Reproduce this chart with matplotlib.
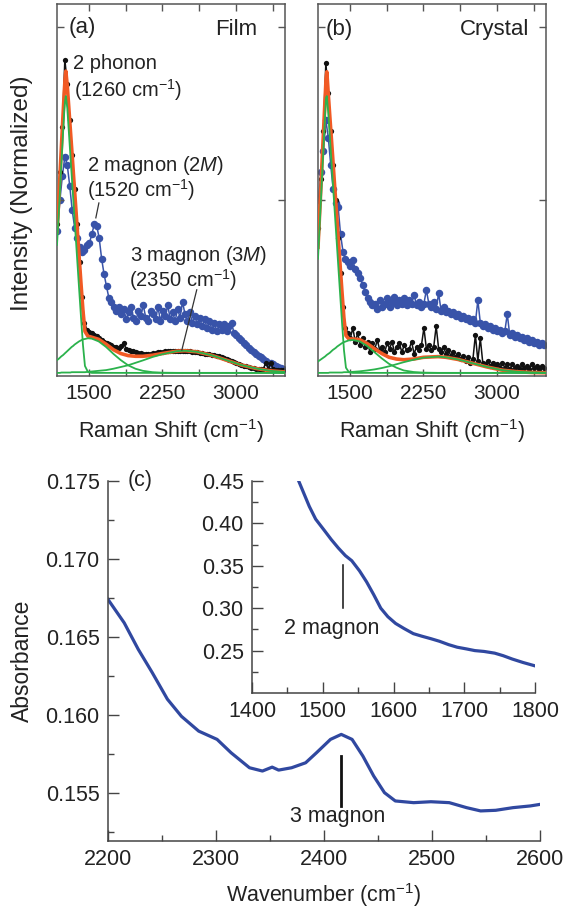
import numpy as np
import matplotlib
matplotlib.use("Agg")
import matplotlib.pyplot as plt
from matplotlib.ticker import FormatStrFormatter

plt.rcParams['font.family'] = ['Liberation Sans', 'DejaVu Sans']
plt.rcParams['mathtext.fontset'] = 'custom'
plt.rcParams['mathtext.rm'] = 'Liberation Sans'
plt.rcParams['mathtext.it'] = 'Liberation Sans:italic'
plt.rcParams['mathtext.bf'] = 'Liberation Sans:bold'

# ---------------- Raman data (normalized intensity), shift grid start/step ----------------
raman_start = 1180
raman_step = 25

film_blue = [0.41, 0.50, 0.57, 0.625, 0.60, 0.54, 0.47, 0.42, 0.39, 0.365, 0.35, 0.355, 0.37,
             0.375, 0.40, 0.43, 0.425, 0.39, 0.33, 0.285, 0.25, 0.215, 0.205, 0.19, 0.18, 0.19,
             0.17, 0.185, 0.155, 0.175, 0.19, 0.16, 0.15, 0.18, 0.165, 0.195,
             0.16, 0.15, 0.18, 0.17, 0.155, 0.19, 0.15, 0.18, 0.165, 0.195,
             0.155, 0.175, 0.15, 0.185, 0.16, 0.205, 0.17, 0.15, 0.175, 0.145,
             0.165, 0.14, 0.16, 0.135, 0.155, 0.13, 0.15, 0.125, 0.145, 0.12,
             0.14, 0.125, 0.14, 0.12, 0.135, 0.145, 0.115, 0.11, 0.10, 0.095,
             0.085, 0.08, 0.072, 0.065, 0.06, 0.055, 0.05, 0.045, 0.04, 0.035,
             0.03, 0.03, 0.025, 0.02, 0.018, 0.014, 0.01]
film_black = [0.43, 0.58, 0.71, 0.905, 0.835, 0.73, 0.63, 0.53, 0.43, 0.32, 0.22, 0.145, 0.125,
              0.118, 0.114, 0.11, 0.106, 0.10, 0.095, 0.09, 0.087, 0.083, 0.08, 0.076, 0.075,
              0.072, 0.078, 0.085, 0.07, 0.066, 0.063, 0.062, 0.06, 0.058, 0.057, 0.056, 0.056,
              0.055, 0.056, 0.057, 0.058, 0.059, 0.06, 0.061, 0.062, 0.062, 0.063, 0.064, 0.063,
              0.064, 0.063, 0.062, 0.063, 0.062, 0.062, 0.061, 0.06, 0.059, 0.058, 0.057, 0.056,
              0.055, 0.054, 0.053, 0.052, 0.05, 0.048, 0.046, 0.043, 0.04, 0.037, 0.034, 0.031,
              0.029, 0.027, 0.024, 0.021, 0.019, 0.017, 0.015, 0.013, 0.012, 0.011, 0.01, 0.012,
              0.03, 0.012, 0.028, 0.01, 0.009, 0.009, 0.008, 0.008]

crystal_blue = [0.50, 0.58, 0.64, 0.73, 0.68, 0.60, 0.53, 0.49, 0.48, 0.40, 0.35, 0.33, 0.32,
                0.31, 0.325, 0.30, 0.29, 0.275, 0.255, 0.235, 0.215, 0.205, 0.195, 0.20, 0.185,
                0.21, 0.19, 0.20, 0.215, 0.19, 0.205, 0.22, 0.195, 0.21, 0.20, 0.215, 0.195, 0.21,
                0.20, 0.225, 0.195, 0.205, 0.19, 0.20, 0.24, 0.20, 0.19, 0.205, 0.185, 0.23, 0.18,
                0.19, 0.175, 0.18, 0.17, 0.175, 0.165, 0.17, 0.16, 0.165, 0.155, 0.16, 0.15, 0.155,
                0.145, 0.21, 0.145, 0.135, 0.14, 0.13, 0.135, 0.125, 0.13, 0.12, 0.125, 0.115, 0.12,
                0.17, 0.11, 0.115, 0.105, 0.11, 0.10, 0.105, 0.095, 0.10, 0.09, 0.095, 0.085, 0.09,
                0.08, 0.085, 0.08]
crystal_black = [0.42, 0.56, 0.70, 0.895, 0.81, 0.70, 0.60, 0.50, 0.39, 0.29, 0.19, 0.13, 0.115,
                 0.10, 0.13, 0.09, 0.115, 0.08, 0.10, 0.075, 0.09, 0.06, 0.085, 0.07, 0.095, 0.065,
                 0.075, 0.06, 0.085, 0.07, 0.09, 0.06, 0.075, 0.085, 0.06, 0.08, 0.065, 0.07, 0.09,
                 0.055, 0.075, 0.065, 0.08, 0.13, 0.07, 0.08, 0.065, 0.075, 0.135, 0.07, 0.06,
                 0.075, 0.055, 0.065, 0.05, 0.06, 0.045, 0.055, 0.04, 0.05, 0.035, 0.045, 0.03,
                 0.04, 0.11, 0.035, 0.10, 0.03, 0.025, 0.035, 0.02, 0.03, 0.02, 0.025, 0.015, 0.03,
                 0.015, 0.025, 0.01, 0.025, 0.015, 0.02, 0.01, 0.025, 0.015, 0.02, 0.01, 0.025,
                 0.015, 0.02, 0.01, 0.02, 0.015]

# ---------------- fit curves ----------------
fit_x = [1175, 1190, 1205, 1220, 1235, 1250, 1257, 1265, 1280, 1295, 1310, 1325, 1340, 1355,
         1370, 1385, 1400, 1420, 1440, 1460, 1490, 1530, 1600, 1675, 1750, 1825, 1900, 1975,
         2050, 2150, 2250, 2400, 2480, 2600, 2750, 2900, 3050, 3200, 3350, 3500]

film_phonon = [0.37, 0.445, 0.525, 0.605, 0.685, 0.76, 0.785, 0.80, 0.765, 0.70, 0.635, 0.57,
               0.505, 0.44, 0.375, 0.31, 0.245, 0.16, 0.08, 0.02, 0.003, 0.0, 0, 0, 0, 0, 0, 0,
               0, 0, 0, 0, 0, 0, 0, 0, 0, 0, 0, 0]
film_2m = [0.037, 0.040, 0.044, 0.048, 0.051, 0.055, 0.057, 0.059, 0.063, 0.067, 0.071, 0.075,
           0.078, 0.082, 0.085, 0.088, 0.091, 0.094, 0.097, 0.098, 0.100, 0.099, 0.091, 0.075,
           0.055, 0.037, 0.022, 0.012, 0.006, 0.002, 0.0005, 0, 0, 0, 0, 0, 0, 0, 0, 0]
film_3m = [0.0, 0.0, 0.0, 0.001, 0.001, 0.001, 0.001, 0.001, 0.001, 0.001, 0.001, 0.002, 0.002,
           0.002, 0.002, 0.002, 0.002, 0.002, 0.002, 0.002, 0.003, 0.004, 0.006, 0.008, 0.012,
           0.017, 0.022, 0.029, 0.036, 0.046, 0.054, 0.063, 0.064, 0.061, 0.051, 0.037, 0.023,
           0.013, 0.006, 0.0025]
film_fit = [0.407, 0.485, 0.569, 0.654, 0.737, 0.816, 0.848, 0.872, 0.829, 0.768, 0.707, 0.647,
            0.585, 0.524, 0.462, 0.40, 0.338, 0.256, 0.179, 0.12, 0.106, 0.103, 0.097, 0.083,
            0.067, 0.056, 0.05, 0.048, 0.048, 0.051, 0.056, 0.063, 0.064, 0.061, 0.051, 0.037,
            0.023, 0.013, 0.006, 0.0025]

crystal_phonon = [0.33, 0.415, 0.50, 0.59, 0.675, 0.76, 0.795, 0.80, 0.75, 0.685, 0.62, 0.555,
                  0.49, 0.425, 0.36, 0.295, 0.23, 0.145, 0.065, 0.015, 0.002, 0.0, 0, 0, 0, 0,
                  0, 0, 0, 0, 0, 0, 0, 0, 0, 0, 0, 0, 0, 0]
crystal_2m = [0.033, 0.036, 0.039, 0.042, 0.045, 0.048, 0.05, 0.052, 0.055, 0.058, 0.062, 0.066,
              0.069, 0.072, 0.076, 0.079, 0.082, 0.086, 0.089, 0.091, 0.094, 0.095, 0.091, 0.078,
              0.060, 0.042, 0.026, 0.015, 0.007, 0.0025, 0.0007, 0, 0, 0, 0, 0, 0, 0, 0, 0]
crystal_3m = [0.0, 0.0, 0.0, 0.0, 0.0, 0.0, 0.0, 0.0, 0.0, 0.001, 0.001, 0.001, 0.001, 0.001,
              0.001, 0.001, 0.001, 0.001, 0.002, 0.002, 0.002, 0.003, 0.0045, 0.007, 0.010,
              0.014, 0.019, 0.025, 0.031, 0.038, 0.044, 0.047, 0.045, 0.039, 0.028, 0.017,
              0.008, 0.0035, 0.0012, 0.0003]
crystal_fit = [0.363, 0.451, 0.539, 0.632, 0.72, 0.808, 0.85, 0.87, 0.805, 0.743, 0.683, 0.622,
               0.56, 0.498, 0.437, 0.375, 0.313, 0.232, 0.156, 0.108, 0.098, 0.098, 0.096,
               0.085, 0.07, 0.056, 0.045, 0.04, 0.038, 0.04, 0.045, 0.047, 0.045, 0.039, 0.028,
               0.017, 0.008, 0.0035, 0.0012, 0.0003]

# ---------------- absorbance data ----------------
abs_x = [2200, 2215, 2228, 2241, 2255, 2268, 2284, 2301, 2314, 2331, 2343, 2352, 2358, 2370,
         2383, 2393, 2406, 2416, 2426, 2436, 2446, 2456, 2466, 2483, 2499, 2516, 2532, 2545,
         2559, 2575, 2591, 2600]
abs_y = [0.1674, 0.1659, 0.1642, 0.1627, 0.1610, 0.1599, 0.15895, 0.15842, 0.15756, 0.15660,
         0.15639, 0.15664, 0.15645, 0.15660, 0.15692, 0.15756, 0.15842, 0.15874, 0.15842,
         0.15735, 0.15607, 0.15500, 0.15447, 0.15436, 0.15442, 0.15436, 0.15404, 0.15383,
         0.15387, 0.15404, 0.15415, 0.15425]

ins_x = [1466, 1475, 1481, 1490, 1502, 1512, 1522, 1532, 1541, 1552, 1562, 1572, 1582, 1592,
         1603, 1615, 1628, 1640, 1653, 1665, 1678, 1690, 1703, 1715, 1728, 1743, 1755, 1768,
         1783, 1800]
ins_y = [0.45, 0.432, 0.42, 0.405, 0.392, 0.381, 0.371, 0.362, 0.356, 0.344, 0.331, 0.316,
         0.300, 0.290, 0.282, 0.276, 0.270, 0.267, 0.264, 0.261, 0.257, 0.254, 0.252, 0.250,
         0.249, 0.247, 0.244, 0.240, 0.236, 0.232]

# ---------------- styles ----------------
BLUE = '#3853a9'
ORANGE = '#f15a24'
GREEN = '#2bb24c'
BLACK = '#111111'
LINE_BLUE = '#3048a0'
TXT = '#222222'

W, H = 576, 910
fig = plt.figure(figsize=(W / 100, H / 100), dpi=100)


def px_axes(l, t, r, b):
    return [l / W, 1 - b / H, (r - l) / W, (b - t) / H]


def raman_panel(ax, blue, black, ph, m2, m3, fit):
    xb = raman_start + raman_step * np.arange(len(blue))
    xk = raman_start + raman_step * np.arange(len(black))
    ax.plot(xb, blue, '-o', color=BLUE, ms=5.4, lw=1.1, mew=0, zorder=1)
    ax.plot(xk, black, '-o', color=BLACK, ms=3.8, lw=1.1, mew=0, zorder=2)
    ax.plot(fit_x, fit, '-', color=ORANGE, lw=2.6, zorder=3)
    for comp in (ph, m2, m3):
        ax.plot(fit_x, comp, '-', color=GREEN, lw=1.3, zorder=4)
    ax.set_xlim(1175, 3500)
    ax.set_ylim(-0.009, 1.066)
    ax.set_xticks([1500, 2250, 3000])
    ax.set_xticks([1875, 2625, 3375], minor=True)
    ax.set_yticks([0.5, 1.0])
    ax.set_yticklabels([])
    ax.tick_params(which='both', direction='in', top=True, right=True, length=5, width=1,
                   labelsize=15, pad=6, color='#555555', labelcolor=TXT)
    for s in ax.spines.values():
        s.set_color('#555555')
        s.set_linewidth(1.1)
    ax.set_xlabel('Raman Shift (cm$^{-1}$)', fontsize=15.5, color=TXT)
    ax.xaxis.set_label_coords(0.5, -0.11)


ax_a = fig.add_axes(px_axes(57, 4, 285, 376))
raman_panel(ax_a, film_blue, film_black, film_phonon, film_2m, film_3m, film_fit)
ax_a.set_ylabel('Intensity (Normalized)', fontsize=17.5, color=TXT)
ax_a.yaxis.set_label_coords(-0.105, 0.49)
ax_a.text(0.05, 0.921, '(a)', transform=ax_a.transAxes, fontsize=16, color=TXT, va='baseline')
ax_a.text(0.879, 0.918, 'Film', transform=ax_a.transAxes, fontsize=16, color=TXT,
          va='baseline', ha='right')
ax_a.text(1340, 0.879, '2 phonon', fontsize=14.5, color=TXT, va='baseline')
ax_a.text(1347, 0.799, '(1260 cm$^{-1}$)', fontsize=14.5, color=TXT, va='baseline')
ax_a.text(1483, 0.582, '2 magnon ($\\mathit{2M}$)', fontsize=14.5, color=TXT, va='baseline')
ax_a.text(1483, 0.51, '(1520 cm$^{-1}$)', fontsize=14.5, color=TXT, va='baseline')
ax_a.text(1918, 0.324, '3 magnon ($\\mathit{3M}$)', fontsize=14.5, color=TXT, va='baseline')
ax_a.text(1911, 0.249, '(2350 cm$^{-1}$)', fontsize=14.5, color=TXT, va='baseline')
ax_a.plot([1602, 1571], [0.491, 0.448], color='#333333', lw=0.9, zorder=5)
ax_a.plot([2600, 2448], [0.24, 0.066], color='#333333', lw=0.9, zorder=5)

ax_b = fig.add_axes(px_axes(318, 4, 546, 376))
raman_panel(ax_b, crystal_blue, crystal_black, crystal_phonon, crystal_2m, crystal_3m,
            crystal_fit)
ax_b.text(0.035, 0.918, '(b)', transform=ax_b.transAxes, fontsize=16, color=TXT, va='baseline')
ax_b.text(0.925, 0.918, 'Crystal', transform=ax_b.transAxes, fontsize=16, color=TXT,
          va='baseline', ha='right')

# ---------------- panel (c) ----------------
ax_c = fig.add_axes(px_axes(108, 481, 540, 841))
ax_c.plot(abs_x, abs_y, '-', color=LINE_BLUE, lw=2.3)
ax_c.set_xlim(2200, 2600)
ax_c.set_ylim(0.1519, 0.175)
ax_c.set_xticks(np.arange(2200, 2601, 100))
ax_c.set_xticks(np.arange(2250, 2600, 100), minor=True)
ax_c.set_yticks([0.155, 0.160, 0.165, 0.170, 0.175])
ax_c.set_yticks([0.1525, 0.1575, 0.1625, 0.1675, 0.1725], minor=True)
ax_c.yaxis.set_major_formatter(FormatStrFormatter('%.3f'))
ax_c.set_xlabel('Wavenumber (cm$^{-1}$)', fontsize=15.5, color=TXT, labelpad=8)
ax_c.set_ylabel('Absorbance', fontsize=16.5, color=TXT, labelpad=8)
ax_c.text(2218, 0.175, '(c)', fontsize=15.5, color=TXT, va='center')
ax_c.plot([2416, 2416], [0.15735, 0.15415], color=BLACK, lw=2.0)
ax_c.text(2413, 0.1535, '3 magnon', fontsize=15.5, color=TXT, ha='center', va='center')

ax_i = fig.add_axes(px_axes(252, 481, 535, 693))
ax_i.patch.set_alpha(0)
ax_i.plot(ins_x, ins_y, '-', color=LINE_BLUE, lw=2.3, clip_on=True)
ax_i.set_xlim(1400, 1800)
ax_i.set_ylim(0.20, 0.45)
ax_i.set_xticks(np.arange(1400, 1801, 100))
ax_i.set_xticks(np.arange(1450, 1800, 100), minor=True)
ax_i.set_yticks([0.25, 0.30, 0.35, 0.40, 0.45])
ax_i.set_yticks([0.225, 0.275, 0.325, 0.375, 0.425], minor=True)
ax_i.yaxis.set_major_formatter(FormatStrFormatter('%.2f'))
ax_i.plot([1528, 1528], [0.351, 0.30], color=BLACK, lw=1.1)
ax_i.text(1512, 0.276, '2 magnon', fontsize=15.5, color=TXT, ha='center', va='center')

for ax in (ax_c, ax_i):
    ax.spines['top'].set_visible(False)
    ax.spines['right'].set_visible(False)
    for s in ('left', 'bottom'):
        ax.spines[s].set_color('#444444')
        ax.spines[s].set_linewidth(1.1)
    ax.tick_params(which='major', direction='in', length=8, width=1, labelsize=15.5,
                   pad=6, color='#444444', labelcolor=TXT)
    ax.tick_params(which='minor', direction='in', length=4, width=1, color='#444444')

fig.savefig('out.png', dpi=100)
